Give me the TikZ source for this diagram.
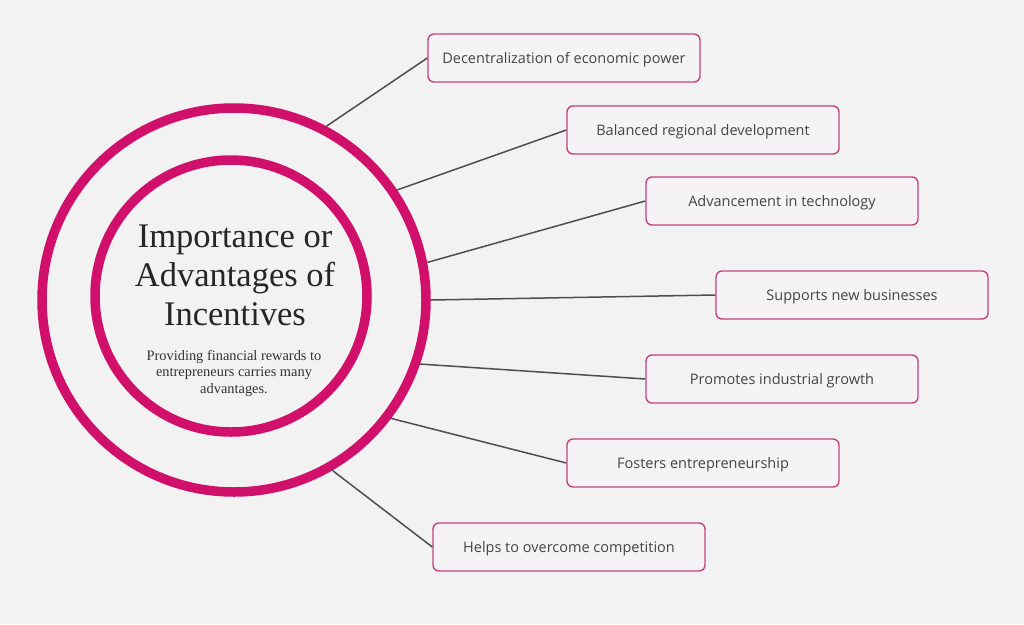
\documentclass[tikz,border=0pt]{standalone}
\usepackage{fontspec}
\setmainfont{Liberation Serif}
\newfontfamily\boxfont{Open Sans}
\definecolor{paper}{HTML}{F2F2F2}
\definecolor{rose}{HTML}{D0106A}
\definecolor{mauve}{HTML}{C2447F}
\definecolor{boxfill}{HTML}{F5F3F5}
\definecolor{wiregray}{HTML}{4E4E4E}
\definecolor{inkgray}{HTML}{444444}
\tikzstyle{ring} = [circle, draw=rose, line width=9.5pt, inner sep=0pt]
\tikzstyle{bag} = [draw=mauve, fill=boxfill, line width=1.4pt, rounded corners=6pt,
  minimum width=272pt, minimum height=48pt, text=inkgray,
  text height=10.5pt, text depth=0.5pt,
  font=\boxfont\fontsize{14.5}{17}\selectfont]
\tikzstyle{link} = [draw=wiregray, line width=1.5pt]

\begin{document}
\begin{tikzpicture}[x=1pt,y=-1pt]
  \fill [paper] (0,0) rectangle (1024,624);
  \useasboundingbox (0,0) rectangle (1024,624);
  % the two rings and their text
  \node (o) at (234,300) [ring, minimum size=384pt] {};
  \node (i) at (231,296) [ring, minimum size=272pt] {};
  \node (t) at (235,275) [align=center, text=black!85,
    font=\fontsize{34.5}{39}\selectfont] {Importance or\\Advantages of\\Incentives};
  \node (s) at (234,373) [align=center, text=black!80,
    font=\fontsize{14.4}{16.5}\selectfont] {Providing financial rewards to\\entrepreneurs carries many\\advantages.};
  % the boxes
  \node (a) at (564,58) [bag] {Decentralization of economic power};
  \node (b) at (703,130) [bag] {Balanced regional development};
  \node (c) at (782,201) [bag] {Advancement in technology};
  \node (d) at (852,295) [bag] {Supports new businesses};
  \node (e) at (782,379) [bag] {Promotes industrial growth};
  \node (f) at (703,463) [bag] {Fosters entrepreneurship};
  \node (g) at (569,547) [bag] {Helps to overcome competition};
  % the links
  \draw [link] (o.62.4) to (a.west);
  \draw [link] (o.34.8) to (b.west);
  \draw [link] (o.11.3) to (c.west);
  \draw [link] (o.0) to (d.west);
  \draw [link] (o.-19.2) to (e.west);
  \draw [link] (o.-37.1) to (f.west);
  \draw [link] (o.-60.5) to (g.west);
\end{tikzpicture}
\end{document}
